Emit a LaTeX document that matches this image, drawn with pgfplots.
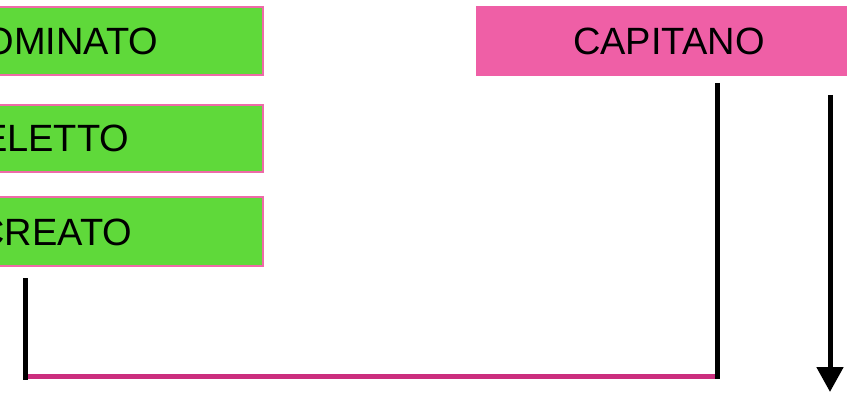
\documentclass[border=0pt]{standalone}
\usepackage{pgfplots}
\pgfplotsset{compat=1.18}
\usetikzlibrary{arrows.meta}
\usepackage{fontspec}
\setmainfont{Liberation Sans}
\definecolor{boxgreen}{HTML}{5FD93A}
\definecolor{boxpink}{HTML}{EF5FA6}
\definecolor{edgepink}{HTML}{EE6AA8}
\definecolor{linepink}{HTML}{CB2E7E}
\begin{document}
\begin{tikzpicture}
\useasboundingbox (0,0) rectangle (847pt,409pt);
\clip (0,0) rectangle (847pt,409pt);
\begin{axis}[
  at={(0,0)}, anchor=south west,
  width=847pt, height=409pt, scale only axis,
  xmin=0, xmax=847, ymin=0, ymax=409, y dir=reverse,
  hide axis, clip=false,
]
% green boxes
\addplot[fill=boxgreen, draw=edgepink, line width=2pt, line join=miter, mark=none]
  coordinates {(-20,7) (263,7) (263,75) (-20,75)} -- cycle;
\addplot[fill=boxgreen, draw=edgepink, line width=2pt, line join=miter, mark=none]
  coordinates {(-20,105) (263,105) (263,172) (-20,172)} -- cycle;
\addplot[fill=boxgreen, draw=edgepink, line width=2pt, line join=miter, mark=none]
  coordinates {(-20,197) (263,197) (263,266) (-20,266)} -- cycle;
% pink box
\addplot[fill=boxpink, draw=none, mark=none]
  coordinates {(476,6) (870,6) (870,76) (476,76)} -- cycle;
% lines
\addplot[linepink, line width=5pt, mark=none] coordinates {(27,376.5) (716,376.5)};
\addplot[black, line width=5pt, mark=none] coordinates {(25.5,278) (25.5,380)};
\addplot[black, line width=5pt, mark=none] coordinates {(717.5,83) (717.5,379)};
\addplot[black, line width=5pt, mark=none, -{Triangle[width=26pt,length=25pt]}]
  coordinates {(830,95) (830,392)};
% labels
\node[anchor=base east, inner sep=0pt, font=\fontsize{38}{40}\selectfont] at (axis cs:158.5,55) {NOMINATO};
\node[anchor=base east, inner sep=0pt, font=\fontsize{38}{40}\selectfont] at (axis cs:129.5,152) {ELETTO};
\node[anchor=base east, inner sep=0pt, font=\fontsize{38}{40}\selectfont] at (axis cs:132.5,245) {CREATO};
\node[anchor=base west, inner sep=0pt, font=\fontsize{38}{40}\selectfont] at (axis cs:573,55) {CAPITANO};
\end{axis}
\end{tikzpicture}
\end{document}
